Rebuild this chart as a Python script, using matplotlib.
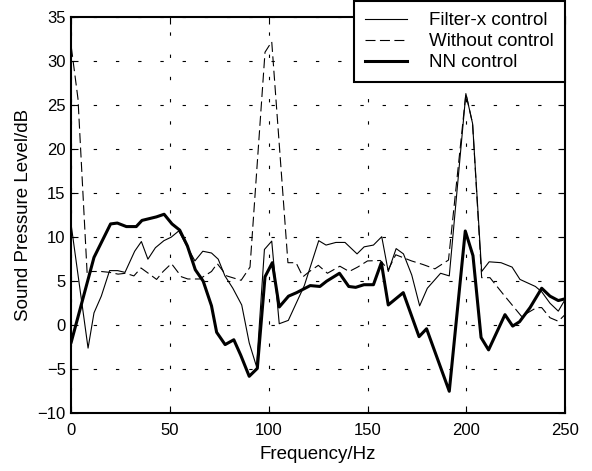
import matplotlib
matplotlib.use("Agg")
import matplotlib.pyplot as plt

plt.rcParams['font.family'] = ['Liberation Sans', 'DejaVu Sans']
plt.rcParams['font.size'] = 13.5

# --- dados ---
freq_filter = [0, 8.5, 11.5, 15.2, 19.4, 23.5, 27.2, 32.1, 35.5, 38.8, 42.6, 46.9, 50.6,
               54.4, 58.5, 62.6, 66.6, 71.0, 74.4, 77.8, 81.8, 86.3, 90.1, 93.8, 97.8,
               101.5, 105.3, 109.9, 118.0, 125.3, 129.0, 134.0, 138.6, 144.7, 148.3,
               153.0, 157.2, 160.5, 164.5, 168.2, 172.4, 176.4, 180.3, 187.0, 191.4,
               199.8, 203.2, 207.8, 211.6, 217.6, 223.2, 227.2, 235.0, 238.2, 242.4,
               246.6, 250.0]
spl_filter = [11.3, -2.6, 1.4, 3.3, 6.2, 6.2, 6.0, 8.4, 9.5, 7.5, 8.8, 9.6, 10.0,
              10.7, 9.0, 7.3, 8.4, 8.2, 7.5, 5.6, 4.2, 2.3, -2.0, -4.7, 8.6,
              9.55, 0.17, 0.55, 4.5, 9.6, 9.1, 9.4, 9.4, 8.1, 8.9,
              9.1, 10.05, 6.1, 8.7, 8.1, 5.7, 2.2, 4.2, 5.9, 5.6,
              26.3, 22.9, 6.1, 7.2, 7.1, 6.6, 5.2, 4.4, 3.8, 2.5,
              1.6, 2.9]

freq_without = [0, 3.4, 8.1, 10.1, 15.2, 19.5, 23.7, 27.5, 31.7, 35.3, 39.3, 43.2, 46.5,
                50.7, 55.8, 59.0, 65.0, 71.0, 73.9, 78.7, 86.0, 90.5, 98.1, 101.5,
                109.7, 113.8, 117.3, 120.6, 125.1, 129.7, 136.0, 140.7, 145.0, 150.0,
                156.5, 160.5, 164.3, 172.3, 178.0, 184.1, 191.0, 199.8, 203.2, 207.8,
                212.0, 218.8, 228.0, 235.6, 238.2, 242.4, 246.6, 250.0]
spl_without = [31.6, 25.7, 5.6, 6.1, 6.1, 6.0, 5.8, 5.9, 5.6, 6.5, 5.85, 5.2, 6.1,
               7.0, 5.5, 5.25, 5.25, 6.1, 7.0, 5.6, 5.1, 6.6, 31.0, 32.2,
               7.1, 7.1, 5.5, 6.1, 6.8, 5.9, 6.7, 6.1, 6.6, 7.3,
               7.35, 6.3, 8.0, 7.3, 6.9, 6.4, 7.4, 26.3, 22.9, 5.4,
               5.4, 3.5, 1.0, 2.0, 2.0, 0.85, 0.45, 1.2]

freq_nn = [0, 11.5, 19.9, 23.3, 27.9, 32.9, 35.8, 43.1, 47.0, 51.0, 54.9, 58.8, 62.8,
           66.8, 71.0, 73.6, 77.9, 82.3, 85.8, 90.1, 94.2, 98.1, 101.8, 105.3, 110.0,
           114.1, 121.0, 125.9, 129.3, 135.8, 140.5, 144.0, 148.2, 153.0, 157.0,
           160.5, 168.1, 176.1, 179.9, 191.4, 199.5, 203.4, 207.5, 211.3, 219.6,
           223.5, 227.0, 232.3, 238.2, 242.4, 246.6, 250.0]
spl_nn = [-1.9, 7.7, 11.5, 11.6, 11.2, 11.2, 11.9, 12.3, 12.6, 11.5, 10.8, 9.0, 6.3,
          5.0, 2.2, -0.8, -2.2, -1.65, -3.4, -5.8, -4.9, 5.5, 7.1, 2.07, 3.3,
          3.7, 4.5, 4.4, 5.0, 5.9, 4.4, 4.3, 4.6, 4.6, 7.1,
          2.3, 3.7, -1.3, -0.4, -7.5, 10.7, 7.9, -1.4, -2.8, 1.2,
          -0.1, 0.4, 2.0, 4.2, 3.3, 2.8, 3.0]

x_ticks = [0, 50, 100, 150, 200, 250]
y_ticks = [-10, -5, 0, 5, 10, 15, 20, 25, 30, 35]

# --- figura ---
fig = plt.figure(figsize=(5.92, 4.71), dpi=100)
ax = fig.add_axes([0.1204, 0.1225, 0.8340, 0.8415])

ax.plot(freq_filter, spl_filter, color='black', linewidth=0.8, label='Filter-x control')
ax.plot(freq_without, spl_without, color='black', linewidth=0.8,
        linestyle=(0, (9, 4)), label='Without control')
ax.plot(freq_nn, spl_nn, color='black', linewidth=2.2, label='NN control')

ax.set_xlim(0, 250)
ax.set_ylim(-10, 35)
ax.set_xticks(x_ticks)
ax.set_yticks(y_ticks)
ax.tick_params(direction='in', length=5, width=0.8, top=True, right=True, labelsize=12)
ax.tick_params(axis='x', pad=7)
ax.tick_params(axis='y', pad=4)
ax.grid(True, color='black', linewidth=0.8, linestyle=(0, (3, 17)))
for s in ax.spines.values():
    s.set_linewidth(1.5)

ax.set_xlabel('Frequency/Hz', labelpad=6)
ax.set_ylabel('Sound Pressure Level/dB', labelpad=4)

leg = ax.legend(loc='upper right', bbox_to_anchor=(1.0, 1.04), fancybox=False,
                framealpha=1, edgecolor='black', borderaxespad=0,
                handlelength=2.25, handletextpad=1.15, labelspacing=0.2,
                borderpad=0.6)
leg.get_frame().set_linewidth(1.5)

fig.savefig('out.png', dpi=100)
